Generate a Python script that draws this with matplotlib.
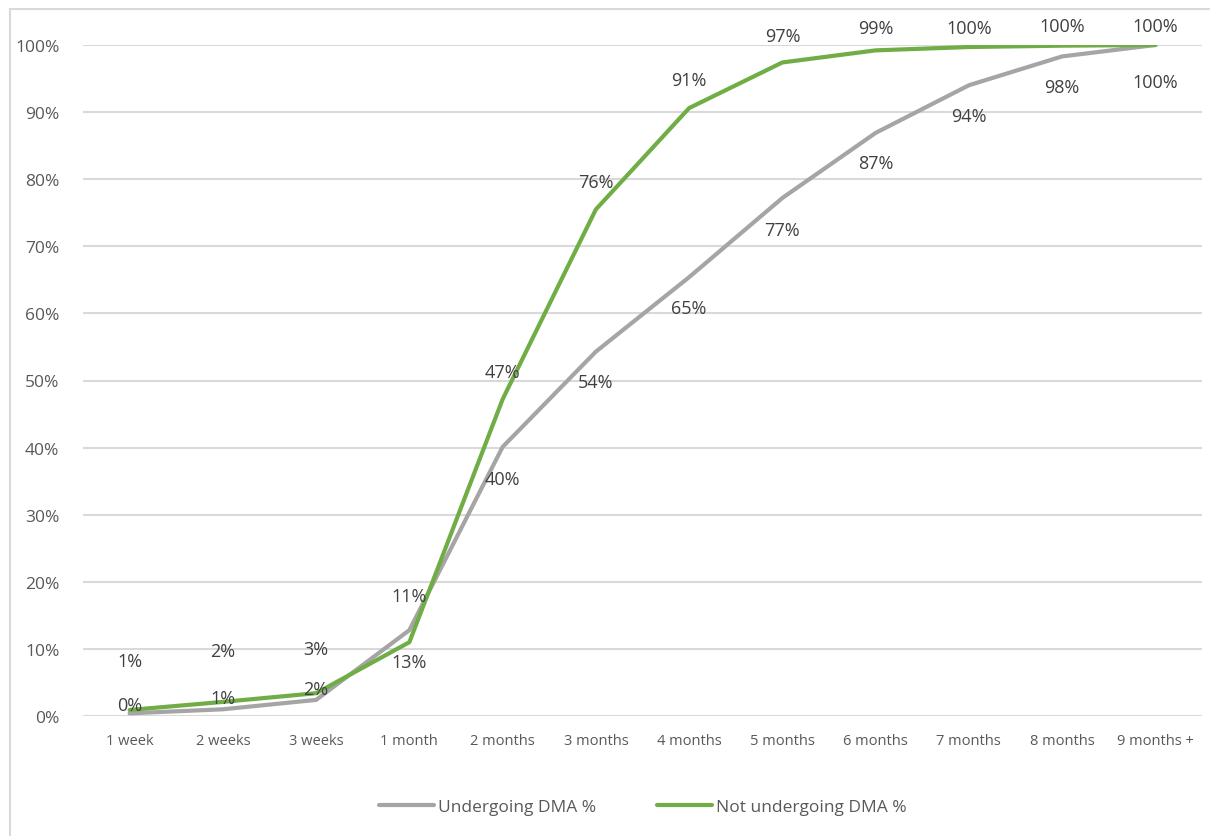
import matplotlib.pyplot as plt
from matplotlib.patches import Rectangle

# Categorias del eje X
categorias = ['1 week', '2 weeks', '3 weeks', '1 month', '2 months', '3 months',
              '4 months', '5 months', '6 months', '7 months', '8 months', '9 months +']

# Porcentajes acumulados
undergoing = [0.4, 1.0, 2.4, 12.8, 40.1, 54.3, 65.4, 77.2, 86.9, 94.0, 98.3, 100.0]
not_undergoing = [0.9, 2.1, 3.4, 11.0, 47.2, 75.5, 90.6, 97.4, 99.2, 99.7, 99.9, 100.0]

nombres = ['Undergoing DMA %', 'Not undergoing DMA %']
colores = ['#a5a5a5', '#70ad47']

# desplazamiento de etiquetas (en puntos), a mano como en el original
offset_gris = [6, 8, 8, -23, -23, -22, -22, -23, -22, -22, -22, -27]
offset_verde = [35, 37, 32, 33, 20, 20, 20, 19, 16, 14, 14, 14]

plt.rcParams['font.family'] = ['Open Sans', 'DejaVu Sans']

fig = plt.figure(figsize=(12.1, 8.37), dpi=100)
# borde exterior del grafico
fig.patches.append(Rectangle((10 / 1210, -0.01), 1.2, 1 - 10 / 837 + 0.01,
                             transform=fig.transFigure, fill=False,
                             edgecolor='#d9d9d9', linewidth=1.5))

ax = fig.add_axes([83 / 1210, 1 - 717 / 837, 1119 / 1210, 671 / 837])
x = list(range(len(categorias)))

ax.plot(x, undergoing, color=colores[0], linewidth=3, label=nombres[0],
        solid_capstyle='round', zorder=3)
ax.plot(x, not_undergoing, color=colores[1], linewidth=3, label=nombres[1],
        solid_capstyle='round', zorder=3)

for i in x:
    ax.annotate(f"{round(undergoing[i])}%", (i, undergoing[i]),
                xytext=(0, offset_gris[i]), textcoords='offset points',
                ha='center', va='center', fontsize=13, color='#404040', zorder=4)
    ax.annotate(f"{round(not_undergoing[i])}%", (i, not_undergoing[i]),
                xytext=(0, offset_verde[i]), textcoords='offset points',
                ha='center', va='center', fontsize=13, color='#404040', zorder=4)

ax.set_xlim(-0.5, len(categorias) - 0.5)
ax.set_ylim(0, 100)
ax.set_yticks(range(0, 101, 10))
ax.set_yticklabels([f"{v}%" for v in range(0, 101, 10)])
ax.set_xticks(x)
ax.set_xticklabels(categorias)
ax.grid(axis='y', color='#d9d9d9', linewidth=1.5, zorder=0)
for s in ax.spines.values():
    s.set_visible(False)
ax.tick_params(axis='both', length=0, colors='#595959')
ax.tick_params(axis='y', labelsize=12.5, pad=17)
ax.tick_params(axis='x', labelsize=10.5, pad=12)

ax.legend(loc='upper center', bbox_to_anchor=(0.5, -0.1), ncol=2, frameon=False,
          fontsize=12.5, handlelength=3.2, handletextpad=0.2, columnspacing=3.5,
          labelcolor='#595959')

fig.savefig('out.png', dpi=100)
